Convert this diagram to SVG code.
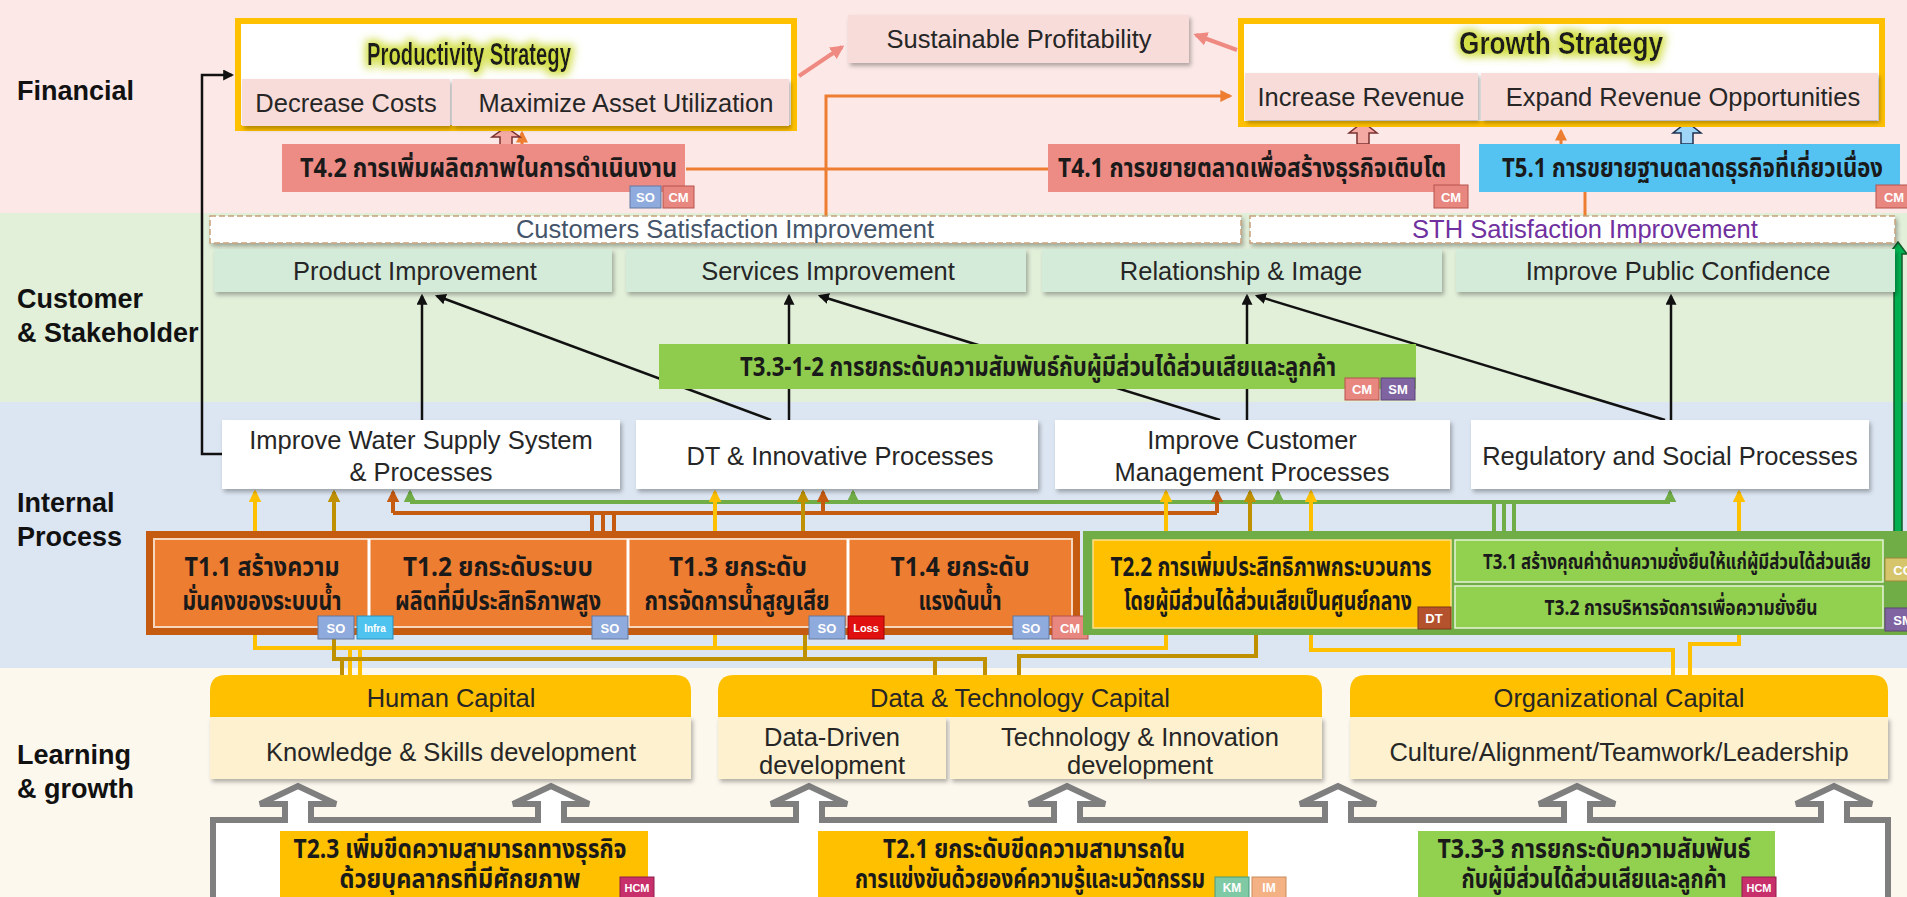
<svg xmlns="http://www.w3.org/2000/svg" width="1907" height="897" viewBox="0 0 1907 897">
<style>
.lbl{font-family:"Liberation Sans",Arial,sans-serif;font-weight:bold;font-size:27px;fill:#111}
.t{font-family:"Liberation Sans",Arial,sans-serif;font-size:25.5px;fill:#262626;text-anchor:middle}
.ttl{font-family:"Liberation Sans",Arial,sans-serif;font-weight:bold;font-size:31px;fill:#1a1a1a;text-anchor:middle}
.th{font-family:"Noto Sans Thai","Tahoma","Liberation Sans",sans-serif;font-weight:bold;font-size:26px;fill:#1a1a1a}
.thm{font-family:"Noto Sans Thai","Tahoma","Liberation Sans",sans-serif;font-weight:bold;font-size:26px;fill:#1a1a1a;text-anchor:middle}
.ths{font-family:"Noto Sans Thai","Tahoma","Liberation Sans",sans-serif;font-weight:bold;font-size:22px;fill:#1a1a1a;text-anchor:middle}
.bd{font-family:"Liberation Sans",Arial,sans-serif;font-weight:bold;font-size:13px;fill:#fff;text-anchor:middle}
.pk{fill:#f8dcd9;filter:url(#sh)}
.gc{fill:#d5ebd9;filter:url(#sh)}
.wb{fill:#fff;filter:url(#sh)}
.cr{fill:#fdf1cf;filter:url(#sh)}
.cap{fill:#ffc000}
.so{fill:#8faadc;stroke:#62789f}
.cm{fill:#e8877f;stroke:#b5534c}
.sm{fill:#8064a2;stroke:#5a4577}
.hcm{fill:#c8306c;stroke:#8e1e4b}
.km{fill:#7fcaa5;stroke:#4d9a78}
.im{fill:#f4b183;stroke:#c98b5a}
.dt{fill:#b5522e;stroke:#7d3518}
.loss{fill:#e01010;stroke:#a00000}
.infra{fill:#4fc3f0;stroke:#2a8fbf}
.cgb{fill:#d7c56c;stroke:#9a8a3a}
.ck{fill:none;stroke:#111;stroke-width:2.5}
.cp{fill:none;stroke:#ef8a82;stroke-width:4}
.co{fill:none;stroke:#ed7d31;stroke-width:3}
.cy{fill:none;stroke:#ffc000;stroke-width:4}
.cgd{fill:none;stroke:#bf9000;stroke-width:4}
.cdo{fill:none;stroke:#c55a11;stroke-width:4}
.cgr{fill:none;stroke:#70ad47;stroke-width:4}
</style>
<defs>
<filter id="sh" x="-5%" y="-20%" width="115%" height="150%">
<feDropShadow dx="2" dy="3" stdDeviation="2" flood-color="#000" flood-opacity="0.3"/>
</filter>
<filter id="glow" x="-20%" y="-60%" width="140%" height="220%">
<feMorphology in="SourceAlpha" operator="dilate" radius="3" result="d"/>
<feGaussianBlur in="d" stdDeviation="4" result="b"/>
<feFlood flood-color="#cfdc3a" flood-opacity="0.95"/>
<feComposite in2="b" operator="in" result="g"/>
<feMerge><feMergeNode in="g"/><feMergeNode in="SourceGraphic"/></feMerge>
</filter>
<marker id="aK" viewBox="0 0 10 10" refX="8" refY="5" markerWidth="11" markerHeight="11" markerUnits="userSpaceOnUse" orient="auto"><path d="M0,0 L10,5 L0,10 z" fill="#111"/></marker>
<marker id="aP" viewBox="0 0 10 10" refX="8" refY="5" markerWidth="14" markerHeight="14" markerUnits="userSpaceOnUse" orient="auto"><path d="M0,0 L10,5 L0,10 z" fill="#ef8a82"/></marker>
<marker id="aR" viewBox="0 0 10 10" refX="8" refY="5" markerWidth="12" markerHeight="12" markerUnits="userSpaceOnUse" orient="auto"><path d="M0,0 L10,5 L0,10 z" fill="#ed7d31"/></marker>
<marker id="aY" viewBox="0 0 10 10" refX="8" refY="5" markerWidth="13" markerHeight="13" markerUnits="userSpaceOnUse" orient="auto"><path d="M0,0 L10,5 L0,10 z" fill="#ffc000"/></marker>
<marker id="aG" viewBox="0 0 10 10" refX="8" refY="5" markerWidth="13" markerHeight="13" markerUnits="userSpaceOnUse" orient="auto"><path d="M0,0 L10,5 L0,10 z" fill="#bf9000"/></marker>
<marker id="aO" viewBox="0 0 10 10" refX="8" refY="5" markerWidth="13" markerHeight="13" markerUnits="userSpaceOnUse" orient="auto"><path d="M0,0 L10,5 L0,10 z" fill="#c55a11"/></marker>
<marker id="aN" viewBox="0 0 10 10" refX="8" refY="5" markerWidth="13" markerHeight="13" markerUnits="userSpaceOnUse" orient="auto"><path d="M0,0 L10,5 L0,10 z" fill="#70ad47"/></marker>
</defs>

<g id="bands">
<rect x="0" y="0" width="1907" height="213" fill="#fce9e7"/>
<rect x="0" y="213" width="1907" height="189" fill="#e2efd9"/>
<rect x="0" y="402" width="1907" height="266" fill="#dce6f2"/>
<rect x="0" y="668" width="1907" height="229" fill="#fdf8ee"/>
</g>

<g id="lane-labels">
<text x="17" y="100" class="lbl">Financial</text>
<text x="17" y="308" class="lbl">Customer</text>
<text x="17" y="342" class="lbl">&amp; Stakeholder</text>
<text x="17" y="512" class="lbl">Internal</text>
<text x="17" y="546" class="lbl">Process</text>
<text x="17" y="764" class="lbl">Learning</text>
<text x="17" y="798" class="lbl">&amp; growth</text>
</g>

<g id="connectors">
<path d="M222,454 H202 V75 H232" class="ck" marker-end="url(#aK)"/>
<path d="M422,420 V296" class="ck" marker-end="url(#aK)"/>
<path d="M771,420 L437,296" class="ck" marker-end="url(#aK)"/>
<path d="M789,420 V296" class="ck" marker-end="url(#aK)"/>
<path d="M1220,420 L820,296" class="ck" marker-end="url(#aK)"/>
<path d="M1247,420 V296" class="ck" marker-end="url(#aK)"/>
<path d="M1665,420 L1257,296" class="ck" marker-end="url(#aK)"/>
<path d="M1671,420 V296" class="ck" marker-end="url(#aK)"/>
<path d="M799,76 L842,47" class="cp" marker-end="url(#aP)"/>
<path d="M1237,50 L1196,35" class="cp" marker-end="url(#aP)"/>
<path d="M686,169 H1048" class="co"/>
<path d="M826,216 V96 H1230" class="co" marker-end="url(#aR)"/>
<path d="M1585,216 V192" class="co"/>
<path d="M522,144 V133" class="co" marker-end="url(#aR)"/>
<path d="M1561,144 V131" class="co" marker-end="url(#aR)"/>
<path d="M500,146 V137 H492 L506,127 L520,137 H512 V146 Z" fill="#f4aaa3" stroke="#7a3030" stroke-width="1.5"/>
<path d="M1357,144 V133 H1349 L1363,122 L1377,133 H1369 V144 Z" fill="#f4aaa3" stroke="#7a3030" stroke-width="1.5"/>
<path d="M1681,144 V133 H1673 L1687,122 L1701,133 H1693 V144 Z" fill="#9fd6f7" stroke="#1e3050" stroke-width="1.5"/>
<path d="M1894,628 V254 H1889 L1898,242 L1907,254 H1902 V628 Z" fill="#00b050" stroke="#145a2a" stroke-width="1.5"/>
<path d="M410,502 H1670" class="cgr"/>
<path d="M410,502 V492" class="cgr" marker-end="url(#aN)"/>
<path d="M853,502 V492" class="cgr" marker-end="url(#aN)"/>
<path d="M1278,502 V492" class="cgr" marker-end="url(#aN)"/>
<path d="M1670,502 V492" class="cgr" marker-end="url(#aN)"/>
<path d="M1494,502 V531 M1504,502 V531 M1514,502 V531" class="cgr"/>
<path d="M393,513 H1217" class="cdo"/>
<path d="M393,513 V492" class="cdo" marker-end="url(#aO)"/>
<path d="M823,513 V492" class="cdo" marker-end="url(#aO)"/>
<path d="M1217,513 V492" class="cdo" marker-end="url(#aO)"/>
<path d="M592,513 V531 M603,513 V531 M614,513 V531" class="cdo"/>
<path d="M255,531 V492" class="cy" marker-end="url(#aY)"/>
<path d="M715,531 V492" class="cy" marker-end="url(#aY)"/>
<path d="M1166,531 V492" class="cy" marker-end="url(#aY)"/>
<path d="M1311,531 V492" class="cy" marker-end="url(#aY)"/>
<path d="M1739,531 V492" class="cy" marker-end="url(#aY)"/>
<path d="M334,531 V492" class="cgd" marker-end="url(#aG)"/>
<path d="M803,531 V492" class="cgd" marker-end="url(#aG)"/>
<path d="M1250,531 V492" class="cgd" marker-end="url(#aG)"/>
<path d="M255,635 V648 H1166 V635 M715,635 V648 M350,648 V676 M360,648 V676" class="cy"/>
<path d="M334,638 V659 H985 V676 M805,635 V659 M935,659 V676 M342,659 V676" class="cgd"/>
<path d="M1019,676 V656 H1256 V635" class="cgd"/>
<path d="M1311,635 V650 H1673 V676" class="cy"/>
<path d="M1739,635 V644 H1690 V676" class="cy"/>
</g>

<g id="productivity-strategy">
<rect x="238" y="21" width="556" height="107" fill="#fff" stroke="#ffc000" stroke-width="6"/>
<text x="469" y="65" class="ttl" filter="url(#glow)" textLength="204" lengthAdjust="spacingAndGlyphs">Productivity Strategy</text>
<rect x="242" y="79" width="208" height="47" class="pk"/>
<text x="346" y="112" class="t">Decrease Costs</text>
<rect x="452" y="79" width="337" height="47" class="pk"/>
<text x="626" y="112" class="t">Maximize Asset Utilization</text>
</g>

<g id="sustainable-profitability">
<rect x="848" y="15" width="341" height="48" class="pk"/>
<text x="1019" y="48" class="t">Sustainable Profitability</text>
</g>

<g id="growth-strategy">
<rect x="1241" y="21" width="641" height="103" fill="#fff" stroke="#ffc000" stroke-width="6"/>
<text x="1561" y="54" class="ttl" filter="url(#glow)" textLength="204" lengthAdjust="spacingAndGlyphs">Growth Strategy</text>
<rect x="1245" y="73" width="233" height="47" class="pk"/>
<text x="1361" y="106" class="t">Increase Revenue</text>
<rect x="1481" y="73" width="397" height="47" class="pk"/>
<text x="1683" y="106" class="t">Expand Revenue Opportunities</text>
</g>

<g id="t4-2">
<rect x="282" y="144" width="403" height="48" fill="#ec8c85"/>
<text x="300" y="177" class="th" textLength="377" lengthAdjust="spacingAndGlyphs">T4.2 การเพิ่มผลิตภาพในการดำเนินงาน</text>
<rect x="630" y="186" width="31" height="22" class="so"/><text x="645.5" y="202" class="bd">SO</text>
<rect x="663" y="186" width="31" height="22" class="cm"/><text x="678.5" y="202" class="bd">CM</text>
</g>

<g id="t4-1">
<rect x="1048" y="144" width="412" height="48" fill="#ec8c85"/>
<text x="1058" y="177" class="th" textLength="388" lengthAdjust="spacingAndGlyphs">T4.1 การขยายตลาดเพื่อสร้างธุรกิจเติบโต</text>
<rect x="1434" y="185" width="34" height="23" class="cm"/><text x="1451" y="202" class="bd">CM</text>
</g>

<g id="t5-1">
<rect x="1479" y="144" width="421" height="48" fill="#55c3f2"/>
<text x="1502" y="177" class="th" textLength="381" lengthAdjust="spacingAndGlyphs">T5.1 การขยายฐานตลาดธุรกิจที่เกี่ยวเนื่อง</text>
<rect x="1876" y="185" width="36" height="23" class="cm"/><text x="1894" y="202" class="bd">CM</text>
</g>

<g id="customers-satisfaction">
<rect x="210" y="216" width="1031" height="27" fill="#fff" stroke="#c8a07a" stroke-width="1.5" stroke-dasharray="6 3" filter="url(#sh)"/>
<text x="725" y="238" class="t" style="fill:#44546a">Customers Satisfaction Improvement</text>
</g>

<g id="sth-satisfaction">
<rect x="1250" y="216" width="645" height="27" fill="#fff" stroke="#c8a07a" stroke-width="1.5" stroke-dasharray="6 3" filter="url(#sh)"/>
<text x="1585" y="238" class="t" style="fill:#7030a0">STH Satisfaction Improvement</text>
</g>

<g id="product-improvement">
<rect x="214" y="249" width="398" height="43" class="gc"/>
<text x="415" y="280" class="t">Product Improvement</text>
</g>
<g id="services-improvement">
<rect x="626" y="249" width="400" height="43" class="gc"/>
<text x="828" y="280" class="t">Services Improvement</text>
</g>
<g id="relationship-image">
<rect x="1042" y="249" width="400" height="43" class="gc"/>
<text x="1241" y="280" class="t">Relationship &amp; Image</text>
</g>
<g id="public-confidence">
<rect x="1456" y="249" width="439" height="43" class="gc"/>
<text x="1678" y="280" class="t">Improve Public Confidence</text>
</g>

<g id="t3-3-1-2">
<rect x="659" y="344" width="757" height="45" fill="#8fcc4e"/>
<text x="740" y="376" class="th" textLength="596" lengthAdjust="spacingAndGlyphs">T3.3-1-2 การยกระดับความสัมพันธ์กับผู้มีส่วนได้ส่วนเสียและลูกค้า</text>
<rect x="1345" y="378" width="34" height="22" class="cm"/><text x="1362" y="394" class="bd">CM</text>
<rect x="1381" y="378" width="34" height="22" class="sm"/><text x="1398" y="394" class="bd">SM</text>
</g>

<g id="improve-water-supply">
<rect x="222" y="420" width="398" height="69" class="wb"/>
<text x="421" y="449" class="t">Improve Water Supply System</text>
<text x="421" y="481" class="t">&amp; Processes</text>
</g>
<g id="dt-innovative">
<rect x="636" y="420" width="402" height="69" class="wb"/>
<text x="840" y="465" class="t">DT &amp; Innovative Processes</text>
</g>
<g id="customer-management">
<rect x="1055" y="420" width="395" height="69" class="wb"/>
<text x="1252" y="449" class="t">Improve Customer</text>
<text x="1252" y="481" class="t">Management Processes</text>
</g>
<g id="regulatory-social">
<rect x="1471" y="420" width="398" height="69" class="wb"/>
<text x="1670" y="465" class="t">Regulatory and Social Processes</text>
</g>

<g id="t1-group">
<rect x="146" y="531" width="934" height="104" fill="#c55a11"/>
<rect x="154" y="539" width="918" height="88" fill="#ed7d31" stroke="#f6d6bd" stroke-width="2"/>
<path d="M369,539 V627 M628,539 V627 M848,539 V627" stroke="#fff" stroke-width="3"/>
<text x="262" y="576" class="thm" textLength="155" lengthAdjust="spacingAndGlyphs">T1.1 สร้างความ</text>
<text x="262" y="610" class="thm" textLength="159" lengthAdjust="spacingAndGlyphs">มั่นคงของระบบน้ำ</text>
<text x="498" y="576" class="thm" textLength="190" lengthAdjust="spacingAndGlyphs">T1.2 ยกระดับระบบ</text>
<text x="498" y="610" class="thm" textLength="206" lengthAdjust="spacingAndGlyphs">ผลิตที่มีประสิทธิภาพสูง</text>
<text x="738" y="576" class="thm" textLength="138" lengthAdjust="spacingAndGlyphs">T1.3 ยกระดับ</text>
<text x="737" y="610" class="thm" textLength="185" lengthAdjust="spacingAndGlyphs">การจัดการน้ำสูญเสีย</text>
<text x="960" y="576" class="thm" textLength="139" lengthAdjust="spacingAndGlyphs">T1.4 ยกระดับ</text>
<text x="960" y="610" class="thm" textLength="83" lengthAdjust="spacingAndGlyphs">แรงดันน้ำ</text>
<rect x="318" y="616" width="36" height="23" class="so"/><text x="336" y="633" class="bd">SO</text>
<rect x="357" y="616" width="36" height="23" class="infra"/><text x="375" y="632" class="bd" style="font-size:10px">Infra</text>
<rect x="592" y="616" width="36" height="23" class="so"/><text x="610" y="633" class="bd">SO</text>
<rect x="809" y="616" width="36" height="23" class="so"/><text x="827" y="633" class="bd">SO</text>
<rect x="848" y="616" width="36" height="23" class="loss"/><text x="866" y="632" class="bd" style="font-size:11px">Loss</text>
<rect x="1013" y="616" width="36" height="23" class="so"/><text x="1031" y="633" class="bd">SO</text>
<rect x="1052" y="616" width="36" height="23" class="cm"/><text x="1070" y="633" class="bd">CM</text>
</g>

<g id="t2-t3-group">
<rect x="1083" y="531" width="830" height="104" fill="#70ad47"/>
<rect x="1093" y="540" width="358" height="88" fill="#ffc000" stroke="#ffe08a" stroke-width="1.5"/>
<text x="1271" y="576" class="thm" textLength="321" lengthAdjust="spacingAndGlyphs">T2.2 การเพิ่มประสิทธิภาพกระบวนการ</text>
<text x="1268" y="610" class="thm" textLength="288" lengthAdjust="spacingAndGlyphs">โดยผู้มีส่วนได้ส่วนเสียเป็นศูนย์กลาง</text>
<rect x="1418" y="607" width="33" height="22" class="dt"/><text x="1434" y="623" class="bd">DT</text>
<rect x="1455" y="540" width="428" height="42" fill="#92d050" stroke="#e6f3d8" stroke-width="1.5"/>
<text x="1677" y="569" class="ths" textLength="388" lengthAdjust="spacingAndGlyphs">T3.1 สร้างคุณค่าด้านความยั่งยืนให้แก่ผู้มีส่วนได้ส่วนเสีย</text>
<rect x="1455" y="586" width="428" height="42" fill="#92d050" stroke="#e6f3d8" stroke-width="1.5"/>
<text x="1681" y="615" class="ths" textLength="273" lengthAdjust="spacingAndGlyphs">T3.2 การบริหารจัดการเพื่อความยั่งยืน</text>
<rect x="1885" y="558" width="36" height="23" class="cgb"/><text x="1903" y="575" class="bd">CG</text>
<rect x="1885" y="608" width="36" height="23" class="sm"/><text x="1903" y="625" class="bd">SM</text>
</g>

<g id="learning-frame">
<path d="M213,905 V820 H285 V804 H260 L298,786 L336,804 H311 V820 H538 V804 H513 L551,786 L589,804 H564 V820 H796 V804 H771 L809,786 L847,804 H822 V820 H1054 V804 H1029 L1067,786 L1105,804 H1080 V820 H1325 V804 H1300 L1338,786 L1376,804 H1351 V820 H1564 V804 H1539 L1577,786 L1615,804 H1590 V820 H1821 V804 H1796 L1834,786 L1872,804 H1847 V820 H1888 V905" fill="#fff" stroke="#7f7f7f" stroke-width="6" stroke-linejoin="miter"/>
</g>

<g id="human-capital">
<path d="M210,717 V691 Q210,675 226,675 H675 Q691,675 691,691 V717 Z" class="cap"/>
<text x="451" y="707" class="t">Human Capital</text>
<rect x="210" y="717" width="481" height="62" class="cr"/>
<text x="451" y="761" class="t">Knowledge &amp; Skills development</text>
</g>

<g id="data-tech-capital">
<path d="M718,717 V691 Q718,675 734,675 H1306 Q1322,675 1322,691 V717 Z" class="cap"/>
<text x="1020" y="707" class="t">Data &amp; Technology Capital</text>
<rect x="718" y="717" width="228" height="62" class="cr"/>
<text x="832" y="746" class="t">Data-Driven</text>
<text x="832" y="774" class="t">development</text>
<rect x="950" y="717" width="372" height="62" class="cr"/>
<text x="1140" y="746" class="t">Technology &amp; Innovation</text>
<text x="1140" y="774" class="t">development</text>
</g>

<g id="organizational-capital">
<path d="M1350,717 V691 Q1350,675 1366,675 H1872 Q1888,675 1888,691 V717 Z" class="cap"/>
<text x="1619" y="707" class="t">Organizational Capital</text>
<rect x="1350" y="717" width="538" height="62" class="cr"/>
<text x="1619" y="761" class="t">Culture/Alignment/Teamwork/Leadership</text>
</g>

<g id="t2-3">
<rect x="280" y="831" width="368" height="70" fill="#ffc000"/>
<text x="460" y="858" class="thm" textLength="333" lengthAdjust="spacingAndGlyphs">T2.3 เพิ่มขีดความสามารถทางธุรกิจ</text>
<text x="460" y="888" class="thm" textLength="241" lengthAdjust="spacingAndGlyphs">ด้วยบุคลากรที่มีศักยภาพ</text>
<rect x="620" y="877" width="34" height="21" class="hcm"/><text x="637" y="892" class="bd" style="font-size:11px">HCM</text>
</g>

<g id="t2-1">
<rect x="818" y="831" width="430" height="70" fill="#ffc000"/>
<text x="1034" y="858" class="thm" textLength="302" lengthAdjust="spacingAndGlyphs">T2.1 ยกระดับขีดความสามารถใน</text>
<text x="1030" y="888" class="thm" textLength="350" lengthAdjust="spacingAndGlyphs">การแข่งขันด้วยองค์ความรู้และนวัตกรรม</text>
<rect x="1215" y="877" width="34" height="21" class="km"/><text x="1232" y="892" class="bd" style="font-size:12px">KM</text>
<rect x="1252" y="877" width="34" height="21" class="im"/><text x="1269" y="892" class="bd" style="font-size:12px">IM</text>
</g>

<g id="t3-3-3">
<rect x="1418" y="831" width="357" height="70" fill="#92d050"/>
<text x="1594" y="858" class="thm" textLength="313" lengthAdjust="spacingAndGlyphs">T3.3-3 การยกระดับความสัมพันธ์</text>
<text x="1594" y="888" class="thm" textLength="265" lengthAdjust="spacingAndGlyphs">กับผู้มีส่วนได้ส่วนเสียและลูกค้า</text>
<rect x="1742" y="877" width="34" height="21" class="hcm"/><text x="1759" y="892" class="bd" style="font-size:11px">HCM</text>
</g>
</svg>
